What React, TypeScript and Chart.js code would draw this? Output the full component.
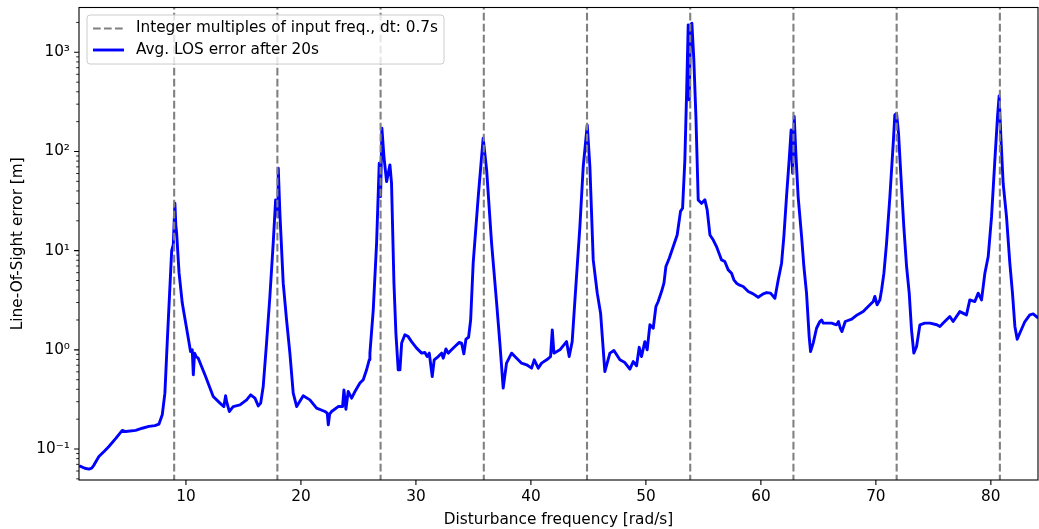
import React, { useEffect, useRef } from 'react';
import { Chart, registerables } from 'chart.js';

Chart.register(...registerables);

// ---- data ----
const freqs = [
  0.72, 0.84, 1.2, 1.57, 1.8, 2.0, 2.43, 2.9, 3.3, 3.9, 4.46, 4.76, 5.63, 6.2, 6.78, 7.3, 7.65, 7.94,
  8.17, 8.37, 8.58, 8.76, 8.9, 9.04, 9.12, 9.19, 9.4, 9.68, 10.03, 10.4, 10.55, 10.64, 10.75, 10.9,
  11.07, 11.71, 12.37, 12.96, 13.3, 13.45, 13.54, 13.77, 14.11, 14.7, 15.28, 15.63, 16.0, 16.29,
  16.5, 16.72, 17.01, 17.3, 17.59, 17.8, 17.88, 18.0, 18.03, 18.17, 18.46, 18.75, 19.04, 19.33, 19.63,
  20.2, 20.78, 21.36, 22.09, 22.29, 22.38, 22.5, 22.67, 23.24, 23.62, 23.74, 23.91, 24.11, 24.41, 24.7, 25.13, 25.42, 25.71, 25.94,
  26.0, 26.29, 26.58, 26.81, 26.93, 27.04, 27.22, 27.45, 27.74, 27.88, 28.09, 28.26, 28.46, 28.61, 28.76,
  29.04, 29.33, 29.62, 30.06, 30.5, 30.78, 30.98, 31.16, 31.42, 31.59, 31.94, 32.23, 32.38, 32.61, 32.81, 33.1, 33.39, 33.77, 33.97, 34.17, 34.35, 34.58, 34.76,
  34.98, 35.42, 35.85, 36.15, 36.58, 37.02, 37.3, 37.59, 37.88, 38.32, 38.76, 39.19, 39.63, 40.06, 40.29, 40.64, 40.93, 41.37, 41.71, 41.86, 42.0, 42.52, 43.1, 43.33, 43.59,
  43.83, 44.26, 44.55, 44.9, 45.13, 45.42, 45.77, 46.06, 46.43, 46.87, 47.22, 47.74, 48.17, 48.61, 48.9, 49.19, 49.42, 49.62, 49.91, 50.11,
  50.35, 50.64, 50.87, 51.07, 51.36, 51.57, 51.74, 52.03, 52.38, 52.72, 53.01, 53.19, 53.39, 53.54, 53.68, 53.77, 53.89, 54.0, 54.17, 54.35,
  54.55, 54.84, 54.99, 55.13, 55.33, 55.57, 55.86, 56.14, 56.58, 56.86, 57.16, 57.45, 57.65, 57.88, 58.1, 58.46, 58.9, 59.33, 59.77, 60.2,
  60.5, 60.84, 61.22, 61.51, 61.8, 62.0, 62.23, 62.46, 62.63, 62.76, 62.9, 63.04, 63.24, 63.54, 63.74,
  63.97, 64.2, 64.32, 64.55, 64.84, 65.13, 65.28, 65.42, 66.15, 66.58, 66.75, 66.91, 67.05, 67.34, 67.9, 68.37, 68.9, 69.33, 69.77, 69.91,
  70.11, 70.35, 70.5, 70.7, 70.93, 71.22, 71.51, 71.65, 71.8, 71.97, 72.23, 72.43, 72.67, 72.9, 73.1, 73.3, 73.54, 73.83,
  74.26, 74.7, 75.3, 75.57, 75.86, 76.43, 76.72, 77.3, 77.88, 78.17, 78.61, 78.9, 79.19, 79.48, 79.77,
  80.06, 80.35, 80.58, 80.72, 80.87, 81.07, 81.36, 81.65, 81.88, 82.09, 82.29, 82.58, 82.96, 83.39, 83.68, 84.12,
];

const losError = [
  0.068, 0.0667, 0.064, 0.0627, 0.064, 0.0689, 0.084, 0.095, 0.106, 0.128, 0.154, 0.15, 0.154, 0.162, 0.169, 0.172, 0.178, 0.221,
  0.366, 1.17, 3.73, 10, 11.5, 30.1, 18, 15.1, 6.0, 2.96, 1.72, 0.96, 1.0, 0.56, 0.926, 0.85,
  0.824, 0.538, 0.338, 0.29, 0.268, 0.344, 0.3, 0.239, 0.268, 0.279, 0.313, 0.352, 0.326, 0.272,
  0.29, 0.427, 1.17, 3.45, 11.9, 32.5, 30, 22, 67.9, 23.9, 4.7, 2.0, 0.926, 0.366, 0.268,
  0.344, 0.313, 0.258, 0.239, 0.23, 0.175, 0.225, 0.239, 0.268, 0.268, 0.395, 0.252, 0.38, 0.326, 0.38, 0.462, 0.499, 0.629, 0.793,
  0.926, 2.53, 11.9, 76.2, 35.1, 172, 88.9, 49.7, 73.3, 47.6, 4.7, 1.47, 0.629, 0.629, 1.17,
  1.42, 1.36, 1.21, 1.04, 0.926, 0.94, 0.856, 0.926, 0.538, 0.793, 0.856, 0.926, 0.824, 1.02, 0.926, 1.0, 1.08, 1.19, 1.17, 0.91, 1.28, 1.34, 2.0,
  7.48, 35.1, 136, 65.3, 11.9, 2.96, 1.17, 0.411, 0.734, 0.926, 0.824, 0.734, 0.706, 0.654, 0.793, 0.654, 0.734, 0.793, 0.856, 1.59, 0.926, 1.0, 1.21, 0.856, 1.21,
  3.19, 17.5, 70.5, 185, 70.5, 8.07, 3.73, 2.34, 0.604, 0.926, 0.985, 0.793, 0.745, 0.638, 0.762, 0.69, 1.06, 0.856, 1.21, 1.0,
  1.79, 1.65, 2.73, 3.07, 3.87, 4.7, 6.92, 8.4, 11, 14.4, 24.9, 26.8, 82.3, 387, 1890, 331, 1890, 1964, 838, 225,
  32.5, 30, 31.3, 32.5, 25.8, 14.4, 12.8, 11, 8.07, 7.77, 6.4, 5.93, 5.08, 4.7, 4.52, 4.35, 3.87, 3.67, 3.39, 3.67,
  3.78, 3.73, 3.31, 5.08, 7.48, 13.9, 35.1, 82.3, 165, 60.4, 225, 96.2, 35.1, 13.9, 6.92,
  3.73, 1.36, 0.96, 1.17, 1.65, 1.93, 2.0, 1.86, 1.86, 1.79, 1.93, 1.65, 1.53, 1.93, 2.04, 2.25, 2.43, 2.73, 3.07, 3.45,
  2.84, 3.19, 4.03, 5.93, 11.9, 35.1, 121, 234, 242, 153, 44.3, 17.5, 6.92, 3.73, 1.59, 0.926, 1.08, 1.79,
  1.86, 1.86, 1.79, 1.72, 1.86, 2.17, 1.93, 2.43, 2.25, 3.19, 3.07, 3.73, 3.19, 5.93, 8.73,
  22, 82.3, 225, 363, 141, 47.6, 22, 7.48, 3.73, 1.72, 1.28, 1.53, 1.93, 2.25, 2.3, 2.09,
];

// integer multiples of the input frequency (2*pi/0.7 rad/s)
const harmonicFreqs = [8.976, 17.952, 26.928, 35.904, 44.880, 53.856, 62.832, 71.808, 80.784];

const xTickValues = [10, 20, 30, 40, 50, 60, 70, 80];
const yTickValues = [0.1, 1, 10, 100, 1000];
const yTickLabels = ['10⁻¹', '10⁰', '10¹', '10²', '10³'];

const seriesLabels = ['Integer multiples of input freq., dt: 0.7s', 'Avg. LOS error after 20s'];
const xTitle = 'Disturbance frequency [rad/s]';
const yTitle = 'Line-Of-Sight error [m]';

const X_MIN = 0.7;
const X_MAX = 84.1;
const Y_MIN = 0.0487;
const Y_MAX = 2830;

const FONT = '"DejaVu Sans", sans-serif';
const FS = 15.3;

const decorPlugin = {
  id: 'decor',
  afterDatasetsDraw(chart: any) {
    const { ctx, chartArea: a, scales } = chart;
    const xs = scales.x;
    const ys = scales.y;
    ctx.save();
    ctx.strokeStyle = '#000';
    ctx.lineWidth = 1.1;
    ctx.strokeRect(a.left, a.top, a.right - a.left, a.bottom - a.top);
    ctx.beginPath();
    xTickValues.forEach((v) => {
      const p = xs.getPixelForValue(v);
      ctx.moveTo(p, a.bottom);
      ctx.lineTo(p, a.bottom + 4.9);
    });
    yTickValues.forEach((v) => {
      const p = ys.getPixelForValue(v);
      ctx.moveTo(a.left, p);
      ctx.lineTo(a.left - 4.9, p);
    });
    ctx.stroke();
    ctx.lineWidth = 0.85;
    ctx.beginPath();
    for (let e = -2; e <= 3; e++) {
      for (let m = 2; m <= 9; m++) {
        const v = m * Math.pow(10, e);
        if (v < Y_MIN || v > Y_MAX) continue;
        const p = ys.getPixelForValue(v);
        ctx.moveTo(a.left, p);
        ctx.lineTo(a.left - 2.8, p);
      }
    }
    ctx.stroke();
    ctx.restore();
  },
  afterDraw(chart: any) {
    const { ctx, chartArea: a } = chart;
    const ds = chart.data.datasets;
    ctx.save();
    const bx = a.left + 8;
    const by = a.top + 7.5;
    const bw = 357;
    const bh = 49;
    ctx.beginPath();
    ctx.roundRect(bx, by, bw, bh, 3);
    ctx.fillStyle = 'rgba(255,255,255,0.8)';
    ctx.fill();
    ctx.strokeStyle = '#cccccc';
    ctx.lineWidth = 1;
    ctx.stroke();
    const rows = [by + 13.5, by + 35];
    ds.forEach((d: any, i: number) => {
      const y = rows[i];
      ctx.beginPath();
      ctx.strokeStyle = d.borderColor;
      ctx.lineWidth = d.borderWidth;
      ctx.setLineDash(d.borderDash || []);
      ctx.lineCap = 'butt';
      ctx.moveTo(bx + 6, y);
      ctx.lineTo(bx + 37, y);
      ctx.stroke();
      ctx.setLineDash([]);
      ctx.fillStyle = '#000';
      ctx.font = `${FS}px ${FONT}`;
      ctx.textBaseline = 'middle';
      ctx.textAlign = 'left';
      ctx.fillText(d.label, bx + 49, y);
    });
    ctx.restore();
  },
};

export default function App() {
  const ref = useRef<HTMLCanvasElement | null>(null);

  useEffect(() => {
    if (!ref.current) return;
    const harmonicPoints: any[] = [];
    harmonicFreqs.forEach((f) => {
      harmonicPoints.push({ x: f, y: 1e-4 });
      harmonicPoints.push({ x: f, y: 1e6 });
      harmonicPoints.push({ x: f, y: null });
    });
    const losPoints = freqs.map((f, i) => ({ x: f, y: losError[i] }));

    const chart = new Chart(ref.current, {
      type: 'line',
      data: {
        datasets: [
          {
            label: seriesLabels[0],
            data: harmonicPoints,
            borderColor: '#808080',
            borderWidth: 2.1,
            borderDash: [7.7, 3.3],
            pointRadius: 0,
            spanGaps: false,
            tension: 0,
          },
          {
            label: seriesLabels[1],
            data: losPoints,
            borderColor: '#0000ff',
            borderWidth: 2.9,
            borderJoinStyle: 'round',
            pointRadius: 0,
            tension: 0,
          },
        ],
      },
      options: {
        animation: false,
        responsive: false,
        maintainAspectRatio: false,
        events: [],
        layout: { padding: { top: 7.5, right: 1, left: 0, bottom: 0 } },
        plugins: {
          legend: { display: false },
          tooltip: { enabled: false },
        },
        scales: {
          x: {
            type: 'linear',
            min: X_MIN,
            max: X_MAX,
            grid: { display: false, drawTicks: false },
            border: { display: false },
            afterBuildTicks: (s: any) => {
              s.ticks = xTickValues.map((v) => ({ value: v }));
            },
            afterFit: (s: any) => {
              s.height = 49;
              s.paddingLeft = 0;
              s.paddingRight = 0;
            },
            ticks: {
              padding: 8,
              color: '#000',
              font: { family: FONT, size: FS },
              maxRotation: 0,
              callback: (v: any) => String(v),
            },
            title: {
              display: true,
              text: xTitle,
              color: '#000',
              font: { family: FONT, size: FS },
              padding: { top: 0, bottom: 0 },
            },
          },
          y: {
            type: 'logarithmic',
            min: Y_MIN,
            max: Y_MAX,
            grid: { display: false, drawTicks: false },
            border: { display: false },
            afterBuildTicks: (s: any) => {
              s.ticks = yTickValues.map((v) => ({ value: v }));
            },
            afterFit: (s: any) => {
              s.width = 79;
              s.paddingTop = 0;
              s.paddingBottom = 0;
            },
            ticks: {
              padding: 9,
              color: '#000',
              font: { family: FONT, size: FS },
              callback: (v: any) => {
                const i = yTickValues.findIndex((t) => Math.abs(t - v) < t * 1e-6);
                return i >= 0 ? yTickLabels[i] : '';
              },
            },
            title: {
              display: true,
              text: yTitle,
              color: '#000',
              font: { family: FONT, size: FS },
              padding: { top: 9, bottom: 3 },
            },
          },
        },
      },
      plugins: [decorPlugin],
    });
    return () => chart.destroy();
  }, []);

  return (
    <div style={{ position: 'absolute', left: 0, top: 0, width: 1039, height: 529, background: '#fff' }}>
      <canvas ref={ref} width={1039} height={529} style={{ display: 'block', width: 1039, height: 529 }} />
    </div>
  );
}
